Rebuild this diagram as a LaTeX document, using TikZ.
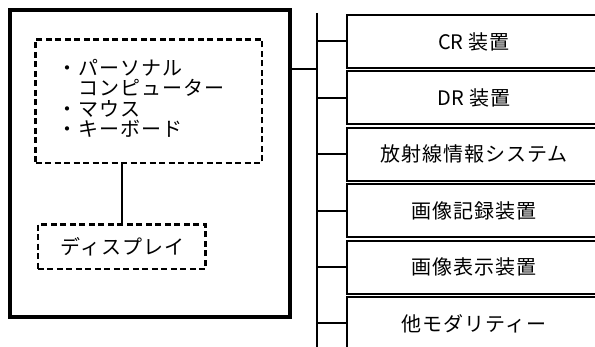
\documentclass[tikz,border=0pt]{standalone}
\usepackage{fontspec}
\newfontfamily\jp[LetterSpace=5]{Noto Sans CJK JP}
\newfontfamily\jplat{Noto Sans CJK JP}
\tikzset{
  outerbox/.style={draw, line width=4pt},
  dashbox/.style={draw, line width=2.2pt, dash pattern=on 6pt off 3.5pt},
  devbox/.style={draw, line width=2pt, minimum width=252pt, minimum height=53pt, anchor=north west, inner sep=0pt},
  wire/.style={line width=2pt},
  lbl/.style={font=\jp\fontsize{20}{20.5}\selectfont, inner sep=0pt},
}
\begin{document}
\begin{tikzpicture}[x=1pt,y=-1pt]
\useasboundingbox (0,0) rectangle (595,347);
% left assembly
\draw[outerbox] (9.7,9.7) rectangle (289.7,316.7);
\node[dashbox, minimum width=226.5pt, minimum height=123.5pt, inner sep=0pt] (pc) at (148.75,101.25) {};
\node[lbl, align=left, anchor=west] (pctext) at (57,98.5) {・パーソナル\\　コンピューター\\・マウス\\・キーボード};
\node[dashbox, minimum width=167.7pt, minimum height=44.5pt, inner sep=0pt] (disp) at (121.65,246.75) {};
\node[lbl] (disptext) at ([xshift=1pt]disp.center) {ディスプレイ};
\draw[line width=2pt] (pc.south -| 122,0) -- (disp.north -| 122,0);
% bus
\coordinate (bustop) at (317,13);
\coordinate (busbot) at (317,350);
\draw[wire] (bustop) -- (busbot);
\coordinate (outR) at (291.7,69.5);
\coordinate (busJ) at (317,69.5);
\draw[wire] (outR) -- (busJ);
% devices
\foreach \i/\t in {0/{{\jplat CR} 装置},1/{{\jplat DR} 装置},2/放射線情報システム,3/画像記録装置,4/画像表示装置,5/他モダリティー}{
  \node[devbox] (d\i) at (346,14+56.4*\i) {};
  \node[lbl] (t\i) at ([xshift=1pt]d\i.center) {\t};
  \draw[wire] (d\i.west -| bustop) -- (d\i.west);
}
\end{tikzpicture}
\end{document}
